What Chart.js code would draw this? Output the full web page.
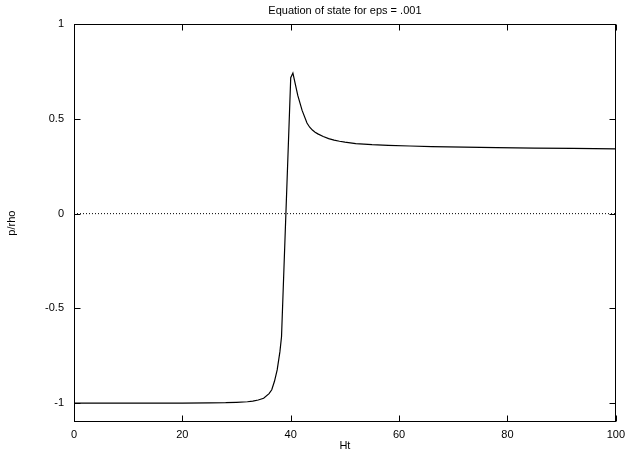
<!DOCTYPE html>
<html>
<head>
<meta charset="utf-8">
<script src="https://cdn.jsdelivr.net/npm/chart.js@4/dist/chart.umd.min.js"></script>
<style>
    html, body { margin: 0; padding: 0; background: #fff; }
    canvas { display: block; }
</style>
</head>
<body>
<canvas id="eosChart" width="631" height="459"></canvas>
<script>
// Curve
const htValues = [0, 10, 20, 25, 28, 30, 32, 33, 34, 35, 36, 36.5, 37, 37.5, 38, 38.3,
    40, 40.4, 41.3, 42.1, 43, 43.5, 44, 44.5, 45, 46, 47, 48, 49, 50, 52, 55, 58, 62, 66, 72,
    78, 85, 92, 100];
const pRhoValues = [-1, -1, -1, -0.999, -0.998, -0.996, -0.993, -0.99, -0.984, -0.975, -0.95, -0.93,
    -0.885, -0.825, -0.73, -0.65, 0.718, 0.742, 0.624, 0.545, 0.478, 0.456, 0.441, 0.43, 0.421,
    0.407, 0.396, 0.388, 0.382, 0.377, 0.37, 0.364, 0.36, 0.357, 0.354, 0.351, 0.348, 0.346,
    0.344, 0.342];

// Dotted zero line
const zeroLineX = [0, 100];
const zeroLineY = [0, 0];

const xTicks = [0, 20, 40, 60, 80, 100];
const yTicks = [-1, -0.5, 0, 0.5, 1];

Chart.defaults.font.family = "'Liberation Sans', Arial, sans-serif";
Chart.defaults.font.size = 11;
Chart.defaults.color = '#000';

const toPoints = (xs, ys) => xs.map((x, i) => ({ x: x, y: ys[i] }));

// gnuplot style frame with inward ticks, title centred over the plot area
const framePlugin = {
    id: 'frame',
    afterLayout(chart) {
        if (chart.titleBlock) {
            chart.titleBlock.left = chart.chartArea.left;
            chart.titleBlock.right = chart.chartArea.right;
        }
    },
    afterDraw(chart) {
        const { ctx, chartArea: a, scales } = chart;
        const tick = 6;
        const L = Math.round(a.left) + 0.5, R = Math.round(a.right) - 0.5;
        const T = Math.round(a.top) + 0.5, B = Math.round(a.bottom) - 0.5;
        ctx.save();
        ctx.strokeStyle = '#000';
        ctx.lineWidth = 1;
        ctx.beginPath();
        xTicks.forEach(v => {
            const px = Math.round(scales.x.getPixelForValue(v)) + 0.5;
            ctx.moveTo(px, B); ctx.lineTo(px, B - tick);
            ctx.moveTo(px, T); ctx.lineTo(px, T + tick);
        });
        yTicks.forEach(v => {
            const py = Math.round(scales.y.getPixelForValue(v)) + 0.5;
            ctx.moveTo(L, py); ctx.lineTo(L + tick, py);
            ctx.moveTo(R, py); ctx.lineTo(R - tick, py);
        });
        ctx.stroke();
        ctx.strokeRect(L, T, R - L, B - T);
        ctx.restore();
    }
};

new Chart(document.getElementById('eosChart'), {
    type: 'scatter',
    data: {
        datasets: [{
            data: toPoints(zeroLineX, zeroLineY),
            showLine: true,
            borderColor: '#000',
            borderWidth: 1,
            borderDash: [1, 2],
            pointRadius: 0
        }, {
            data: toPoints(htValues, pRhoValues),
            showLine: true,
            borderColor: '#000',
            borderWidth: 1.2,
            pointRadius: 0,
            tension: 0
        }]
    },
    options: {
        responsive: false,
        animation: false,
        devicePixelRatio: 1,
        layout: { padding: { left: 0, right: 14, top: 0, bottom: 0 } },
        plugins: {
            legend: { display: false },
            tooltip: { enabled: false },
            title: {
                display: true,
                text: 'Equation of state for eps = .001',
                font: { size: 11, weight: 'normal' },
                padding: { top: 4, bottom: 7 }
            }
        },
        scales: {
            x: {
                type: 'linear',
                min: 0,
                max: 100,
                grid: { display: false, drawTicks: false },
                border: { display: false },
                afterBuildTicks: s => { s.ticks = xTicks.map(v => ({ value: v })); },
                afterFit: s => { s.height = 37; },
                ticks: { padding: 6, maxRotation: 0, callback: v => String(v) },
                title: { display: true, text: 'Ht', padding: { top: 0, bottom: 6 } }
            },
            y: {
                type: 'linear',
                min: -1.1,
                max: 1,
                grid: { display: false, drawTicks: false },
                border: { display: false },
                afterBuildTicks: s => { s.ticks = yTicks.map(v => ({ value: v })); },
                afterFit: s => { s.width = 74; },
                ticks: { padding: 10, callback: v => String(v) },
                title: { display: true, text: 'p/rho', padding: { top: 5, bottom: 0 } }
            }
        }
    },
    plugins: [framePlugin]
});
</script>
</body>
</html>
